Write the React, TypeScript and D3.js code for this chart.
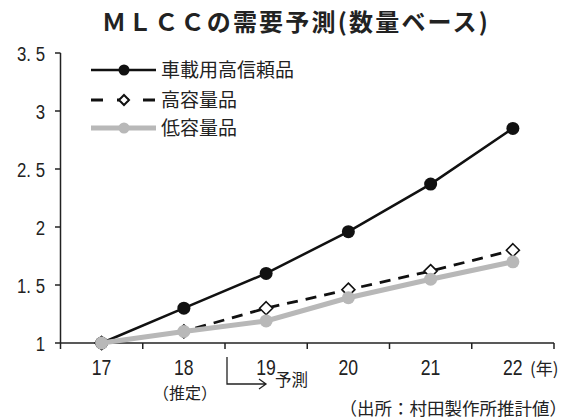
import React from "react";
import * as d3 from "d3";

const years = ["17", "18", "19", "20", "21", "22"];
const automotive = [1.0, 1.3, 1.6, 1.96, 2.37, 2.85];
const highCap = [1.0, 1.1, 1.3, 1.46, 1.62, 1.8];
const lowCap = [1.0, 1.1, 1.19, 1.39, 1.55, 1.7];
const yTicks = [1, 1.5, 2, 2.5, 3, 3.5];
const yTickLabels = ["1", "1. 5", "2", "2. 5", "3", "3. 5"];
const seriesNames = ["車載用高信頼品", "高容量品", "低容量品"];

const W = 568;
const H = 419;
const numFont = "'Liberation Sans', Arial, sans-serif";
const jpFont = "'Noto Sans CJK JP', 'Noto Sans', sans-serif";

function NumText({ x, y, anchor, size, children }: { x: number; y: number; anchor: string; size: number; children: React.ReactNode }) {
  return (
    <text
      transform={`translate(${x},${y}) scale(0.8,1)`}
      textAnchor={anchor}
      fontFamily={numFont}
      fontSize={size}
      fill="#222"
    >
      {children}
    </text>
  );
}

export default function App() {
  const x = d3.scaleBand<string>().domain(years).range([60.5, 554]).padding(0);
  const y = d3.scaleLinear().domain([1, 3.5]).range([343, 53]);
  const cx = (d: string) => (x(d) as number) + x.bandwidth() / 2;
  const line = d3
    .line<number>()
    .x((_, i) => cx(years[i]))
    .y((v) => y(v));
  const boundaries = [...years.map((d) => x(d) as number), 554];
  const gray = "#b8b8b8";
  const diamond = (px: number, py: number, r: number) =>
    `M${px},${py - r}L${px + r},${py}L${px},${py + r}L${px - r},${py}Z`;

  return (
    <svg width={W} height={H} style={{ position: "absolute", left: 0, top: 0, background: "#fff" }}>
      <rect width={W} height={H} fill="#fff" />
      {/* title */}
      <text x={296} y={31} textAnchor="middle" fontFamily={jpFont} fontWeight={700} fontSize={24} letterSpacing={2.2} fill="#222">
        ＭＬＣＣの需要予測(数量ベース)
      </text>

      {/* axes */}
      <line x1={60.5} x2={60.5} y1={y(3.5)} y2={343} stroke="#222" strokeWidth={1.5} />
      <line x1={60.5} x2={554} y1={343} y2={343} stroke="#222" strokeWidth={1.5} />
      {yTicks.map((t, i) => (
        <g key={t}>
          <line x1={55} x2={60.5} y1={y(t)} y2={y(t)} stroke="#222" strokeWidth={1.5} />
          <NumText x={45} y={y(t) + 7.5} anchor="end" size={21}>
            {yTickLabels[i]}
          </NumText>
        </g>
      ))}
      {boundaries.map((b, i) => (
        <line key={i} x1={b} x2={b} y1={343} y2={349} stroke="#222" strokeWidth={1.5} />
      ))}
      {years.map((d) => (
        <NumText key={d} x={cx(d)} y={375} anchor="middle" size={22}>
          {d}
        </NumText>
      ))}
      <text x={530} y={375} fontFamily={jpFont} fontSize={17} fill="#222">
        (年)
      </text>
      <text x={185} y={399} textAnchor="middle" fontFamily={jpFont} fontSize={16} fill="#222">
        （推定）
      </text>
      {/* forecast arrow */}
      <path
        d={`M${boundaries[2] + 2},357 V384 H266 M259,379 L266,384 L259,389`}
        fill="none"
        stroke="#222"
        strokeWidth={1.3}
      />
      <text x={275} y={386} fontFamily={jpFont} fontSize={16.5} fill="#222">
        予測
      </text>
      <text x={567} y={415} textAnchor="end" fontFamily={jpFont} fontSize={17.5} fill="#222">
        （出所：村田製作所推計値）
      </text>

      {/* series: automotive */}
      <path d={line(automotive) || ""} fill="none" stroke="#111" strokeWidth={2.5} />
      {automotive.map((v, i) => (
        <circle key={i} cx={cx(years[i])} cy={y(v)} r={6.5} fill="#111" />
      ))}
      {/* high capacity */}
      <path d={line(highCap) || ""} fill="none" stroke="#111" strokeWidth={2.8} strokeDasharray="11,8" />
      {highCap.map((v, i) => (
        <path key={i} d={diamond(cx(years[i]), y(v), 6.5)} fill="#fff" stroke="#111" strokeWidth={1.6} />
      ))}
      {/* low capacity */}
      <path d={line(lowCap) || ""} fill="none" stroke={gray} strokeWidth={5} />
      {lowCap.map((v, i) => (
        <circle key={i} cx={cx(years[i])} cy={y(v)} r={6.5} fill={gray} />
      ))}

      {/* legend */}
      <g>
        <line x1={91} x2={156} y1={70} y2={70} stroke="#111" strokeWidth={2.5} />
        <circle cx={124} cy={70} r={5.5} fill="#111" />
        <text x={161} y={77} fontFamily={jpFont} fontSize={19} fill="#222">
          {seriesNames[0]}
        </text>

        <line x1={91} x2={156} y1={100} y2={100} stroke="#111" strokeWidth={2.8} strokeDasharray="12,14" />
        <path d={diamond(124, 100, 5)} fill="#fff" stroke="#111" strokeWidth={2} />
        <text x={161} y={107} fontFamily={jpFont} fontSize={19} fill="#222">
          {seriesNames[1]}
        </text>

        <line x1={91} x2={156} y1={128} y2={128} stroke={gray} strokeWidth={5} />
        <circle cx={124} cy={128} r={5.5} fill={gray} />
        <text x={161} y={135} fontFamily={jpFont} fontSize={19} fill="#222">
          {seriesNames[2]}
        </text>
      </g>
    </svg>
  );
}
